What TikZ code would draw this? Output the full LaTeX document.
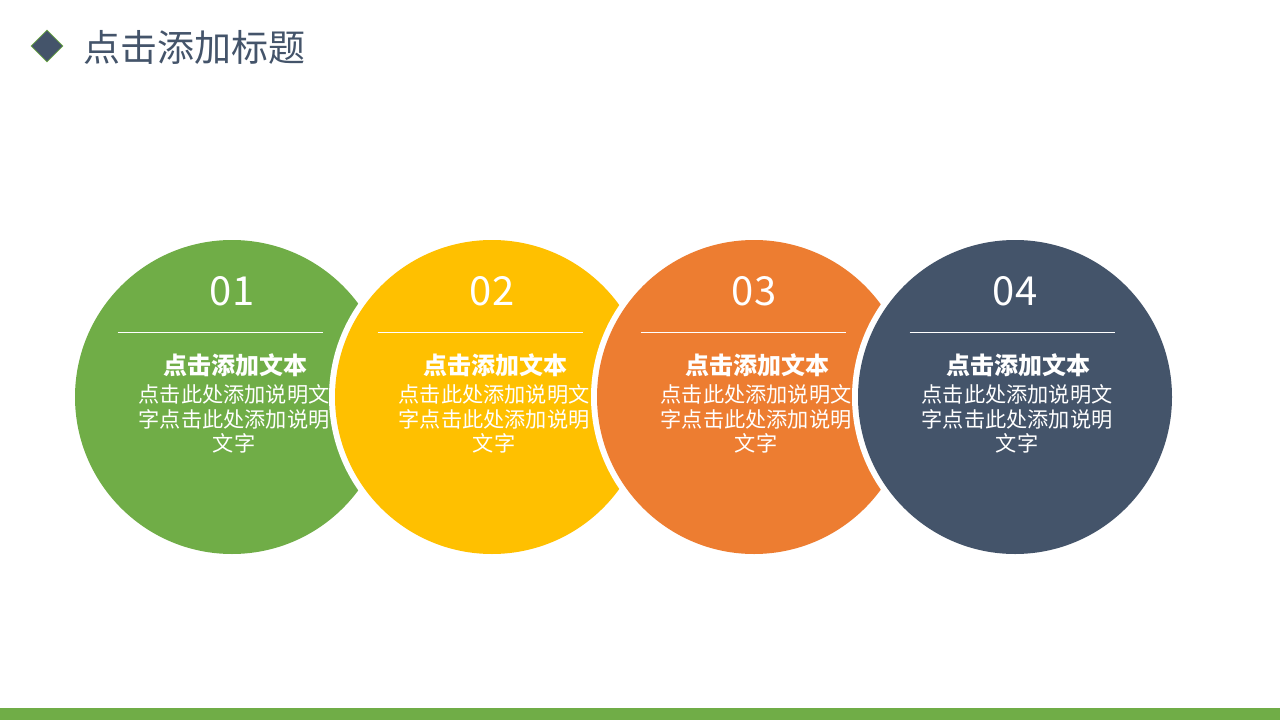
\documentclass[tikz,border=0pt]{standalone}
\usepackage{fontspec}
\setmainfont{Noto Sans CJK SC}
\usetikzlibrary{shapes.geometric}
\definecolor{sgreen}{HTML}{70AD47}
\definecolor{syellow}{HTML}{FFC000}
\definecolor{sorange}{HTML}{ED7D31}
\definecolor{snavy}{HTML}{44546A}

\begin{document}
\begin{tikzpicture}[x=1pt, y=-1pt]
\tikzstyle{disc} = [circle, minimum size=314pt, inner sep=0pt]
\tikzstyle{gap} = [circle, minimum size=326pt, inner sep=0pt, fill=white]
\tikzstyle{numtext} = [text=white, inner sep=0pt, font=\fontsize{40}{40}\selectfont]
\tikzstyle{headtext} = [text=white, inner sep=0pt, font=\fontsize{24}{24}\selectfont\bfseries]
\tikzstyle{desctext} = [text=white, inner sep=0pt, align=center, font=\fontsize{21.2}{24.5}\selectfont]
\useasboundingbox (0,0) rectangle (1280,720);

% title and footer
\fill [sgreen] (0,708) rectangle (1280,720);
\node (mark) [diamond, fill=snavy, draw=sgreen, line width=0.8pt, minimum size=32pt, inner sep=0pt] at (47,46) {};
\node (title) [anchor=west, text=snavy, inner sep=0pt, font=\fontsize{37}{37}\selectfont] at (83,47) {点击添加标题};

% four overlapping discs
\foreach \i/\cx/\col/\off in {1/232/sgreen/12, 2/492/syellow/12, 3/754/sorange/11, 4/1015/snavy/3} {
  \ifnum\i>1 \node (gap\i) [gap] at (\cx,397) {}; \fi
  \node (disc\i) [disc, fill=\col] at (\cx,397) {};
  \node (num\i) [numtext] at (\cx,291) {0\i};
  \draw [white, line width=0.8pt] (\cx-\off-102.5,332) -- (\cx-\off+102.5,332);
  \node (head\i) [headtext] at (\cx+3,365) {点击添加文本};
  \node (desc\i) [desctext] at (\cx+2,419) {点击此处添加说明文\\字点击此处添加说明\\文字};
}
\end{tikzpicture}
\end{document}
